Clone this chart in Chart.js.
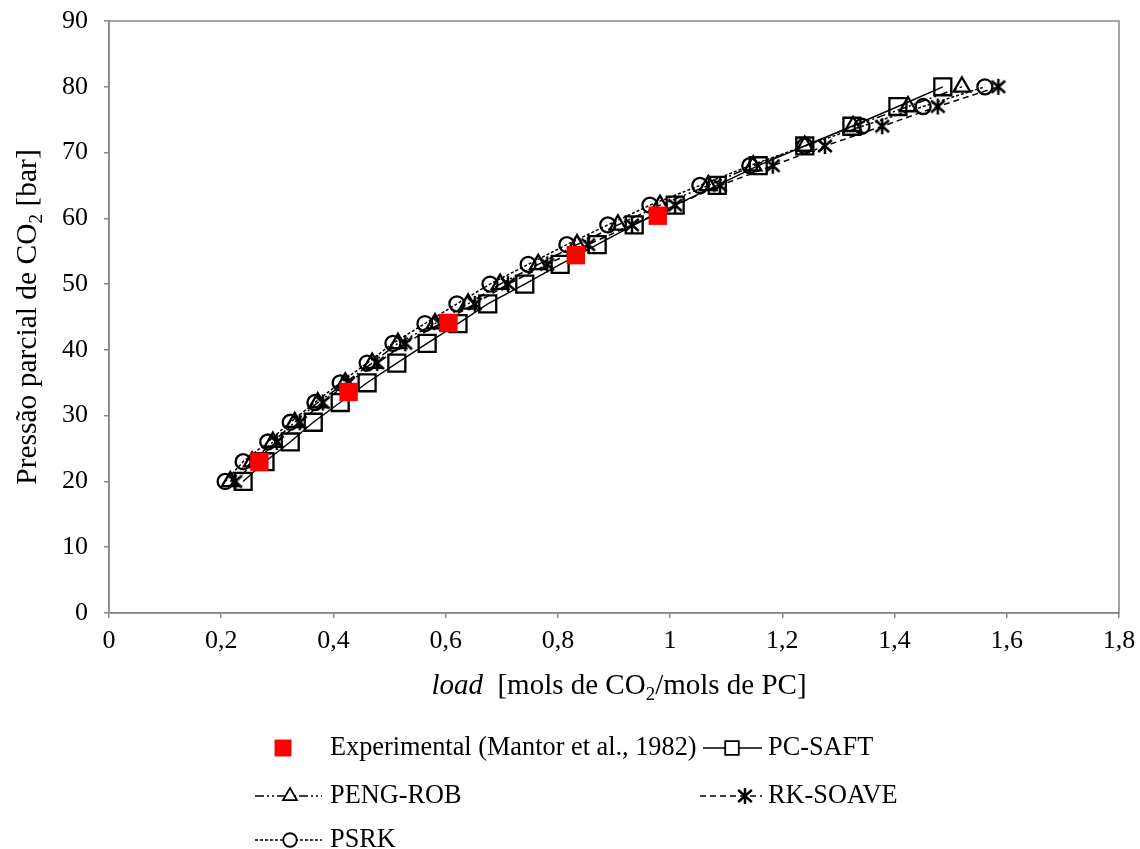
<!DOCTYPE html>
<html>
<head>
<meta charset="utf-8">
<script src="https://cdn.jsdelivr.net/npm/chart.js@4.4.1/dist/chart.umd.min.js"></script>
<style>
body { margin: 0; background: #fff; }
#wrap { width: 1140px; height: 849px; }
</style>
</head>
<body>
<div id="wrap"><canvas id="chart" width="1140" height="849"></canvas></div>
<script>
// pressao parcial (bar) dos pontos calculados
var pressure = [20, 23, 26, 29, 32, 35, 38, 41, 44, 47, 50, 53, 56, 59, 62, 65, 68, 71, 74, 77, 80];

// load (mols CO2 / mols PC) de cada modelo
var loadPcSaft  = [0.239, 0.278, 0.323, 0.364, 0.412, 0.460, 0.513, 0.567, 0.622, 0.675, 0.741, 0.804, 0.870, 0.936, 1.009, 1.084, 1.157, 1.240, 1.324, 1.406, 1.486];
var loadPengRob = [0.216, 0.255, 0.292, 0.331, 0.372, 0.421, 0.469, 0.515, 0.581, 0.640, 0.697, 0.765, 0.834, 0.907, 0.982, 1.068, 1.148, 1.240, 1.326, 1.424, 1.520];
var loadRkSoave = [0.225, 0.260, 0.299, 0.340, 0.381, 0.426, 0.478, 0.528, 0.590, 0.652, 0.711, 0.781, 0.854, 0.932, 1.009, 1.089, 1.183, 1.276, 1.378, 1.477, 1.585];
var loadPsrk    = [0.207, 0.239, 0.283, 0.323, 0.367, 0.412, 0.460, 0.506, 0.563, 0.620, 0.679, 0.747, 0.816, 0.889, 0.964, 1.053, 1.142, 1.240, 1.342, 1.451, 1.561];

// experimental (Mantor et al., 1982)
var expLoad     = [0.268, 0.427, 0.605, 0.832, 0.978];
var expPressure = [23.0, 33.6, 44.1, 54.4, 60.4];

var serif = '"Liberation Serif", "Times New Roman", serif';

function toPoints(xs, ys) {
	var pts = [];
	for (var i = 0; i < xs.length; i++) {
		pts.push({x: xs[i], y: ys[i]});
	}
	return pts;
}

// marcador estrela do Excel (vertical + X)
function makeStar(size, lw) {
	var c = document.createElement('canvas');
	c.width = size; c.height = size;
	var g = c.getContext('2d');
	var h = size / 2, r = size / 2 - 1;
	g.strokeStyle = '#000';
	g.lineWidth = lw;
	g.beginPath();
	g.moveTo(h, h - r); g.lineTo(h, h + r);
	g.moveTo(h - r * 0.85, h - r * 0.75); g.lineTo(h + r * 0.85, h + r * 0.75);
	g.moveTo(h - r * 0.85, h + r * 0.75); g.lineTo(h + r * 0.85, h - r * 0.75);
	g.stroke();
	return c;
}
var starImg = makeStar(18, 2.5);

var datasets = [{
	label: 'Experimental (Mantor et al., 1982)',
	data: toPoints(expLoad, expPressure),
	showLine: false,
	pointStyle: 'rect',
	pointRadius: 13,
	pointBorderWidth: 0,
	pointBackgroundColor: '#ff0000',
	pointBorderColor: '#ff0000'
}, {
	label: 'PC-SAFT',
	data: toPoints(loadPcSaft, pressure),
	showLine: true,
	borderColor: '#000',
	borderWidth: 1.4,
	pointStyle: 'rect',
	pointRadius: 12,
	pointBorderWidth: 2.3,
	pointBackgroundColor: 'rgba(0,0,0,0)',
	pointBorderColor: '#000'
}, {
	label: 'PENG-ROB',
	data: toPoints(loadPengRob, pressure),
	showLine: true,
	borderColor: '#000',
	borderWidth: 1.5,
	borderDash: [9, 3, 2, 3, 2, 3],
	pointStyle: 'triangle',
	pointRadius: 9.5,
	pointBorderWidth: 2.3,
	pointBackgroundColor: 'rgba(0,0,0,0)',
	pointBorderColor: '#000'
}, {
	label: 'RK-SOAVE',
	data: toPoints(loadRkSoave, pressure),
	showLine: true,
	borderColor: '#000',
	borderWidth: 1.5,
	borderDash: [6, 4],
	pointStyle: starImg,
	pointRadius: 9,
	pointBorderWidth: 2.3,
	pointBackgroundColor: 'rgba(0,0,0,0)',
	pointBorderColor: '#000'
}, {
	label: 'PSRK',
	data: toPoints(loadPsrk, pressure),
	showLine: true,
	borderColor: '#000',
	borderWidth: 1.5,
	borderDash: [3, 2],
	pointStyle: 'circle',
	pointRadius: 7.5,
	pointBorderWidth: 2.3,
	pointBackgroundColor: 'rgba(0,0,0,0)',
	pointBorderColor: '#000'
}];

// texto com subscrito / italico
function richText(ctx, parts, cx, cy, size) {
	var total = 0;
	function fnt(p) {
		return (p.italic ? 'italic ' : '') + (p.sub ? Math.round(size * 0.65) : size) + 'px ' + serif;
	}
	parts.forEach(function(p) {
		ctx.font = fnt(p);
		p.w = ctx.measureText(p.t).width;
		total += p.w;
	});
	var x = cx - total / 2;
	ctx.textAlign = 'left';
	ctx.textBaseline = 'middle';
	parts.forEach(function(p) {
		ctx.font = fnt(p);
		ctx.fillText(p.t, x, cy + (p.sub ? size * 0.3 : 0));
		x += p.w;
	});
}

var framePlugin = {
	id: 'frame',
	beforeDatasetsDraw: function(chart) {
		var a = chart.chartArea, ctx = chart.ctx;
		ctx.save();
		ctx.strokeStyle = '#888';
		ctx.lineWidth = 1.5;
		ctx.strokeRect(a.left, a.top, a.right - a.left, a.bottom - a.top);
		ctx.restore();
	},
	afterDraw: function(chart) {
		var ctx = chart.ctx;
		ctx.save();
		ctx.fillStyle = '#000';
		// titulo eixo x
		richText(ctx, [
			{t: 'load', italic: true},
			{t: '  [mols de CO'},
			{t: '2', sub: true},
			{t: '/mols de PC]'}
		], 619, 686, 29);
		// titulo eixo y
		ctx.save();
		ctx.translate(28, 317);
		ctx.rotate(-Math.PI / 2);
		richText(ctx, [
			{t: 'Pressão parcial de CO'},
			{t: '2', sub: true},
			{t: ' [bar]'}
		], 0, 0, 29.5);
		ctx.restore();
		ctx.restore();

		// legenda
		var ds = chart.data.datasets;
		var items = [
			{i: 0, x1: 0, x2: 0, mx: 283, tx: 330, y: 748, k: 0.92},
			{i: 1, x1: 703, x2: 762, mx: 732, tx: 768, y: 748, k: 0.8},
			{i: 2, x1: 255, x2: 322, mx: 290, tx: 330, y: 796, k: 0.85},
			{i: 3, x1: 700, x2: 762, mx: 745, tx: 768, y: 796, k: 0.85},
			{i: 4, x1: 255, x2: 322, mx: 290, tx: 330, y: 840, k: 0.9}
		];
		items.forEach(function(it) {
			var d = ds[it.i];
			ctx.save();
			if (it.x2 > it.x1) {
				ctx.strokeStyle = d.borderColor;
				ctx.lineWidth = d.borderWidth;
				ctx.setLineDash(d.borderDash || []);
				ctx.beginPath();
				ctx.moveTo(it.x1, it.y);
				ctx.lineTo(it.x2, it.y);
				ctx.stroke();
			}
			ctx.setLineDash([]);
			ctx.fillStyle = it.i === 0 ? d.pointBackgroundColor : '#fff';
			ctx.strokeStyle = d.pointBorderColor;
			ctx.lineWidth = 1.8;
			Chart.helpers.drawPoint(ctx, {
				pointStyle: d.pointStyle,
				radius: d.pointRadius * it.k,
				rotation: 0,
				borderWidth: d.pointBorderWidth ? 1.8 : 0
			}, it.mx, it.y);
			ctx.fillStyle = '#000';
			ctx.font = '26.3px ' + serif;
			ctx.textAlign = 'left';
			ctx.textBaseline = 'middle';
			ctx.fillText(d.label, it.tx, it.y);
			ctx.restore();
		});
	}
};

var ctx = document.getElementById('chart').getContext('2d');
window.myChart = new Chart(ctx, {
	type: 'scatter',
	data: {datasets: datasets},
	options: {
		responsive: false,
		animation: false,
		layout: {padding: {left: 0, top: 21, right: 21, bottom: 0}},
		plugins: {
			legend: {display: false},
			tooltip: {enabled: false}
		},
		scales: {
			x: {
				type: 'linear',
				min: 0,
				max: 1.8,
				ticks: {
					stepSize: 0.2,
					padding: 8,
					color: '#000',
					font: {family: serif, size: 26},
					maxRotation: 0,
					callback: function(v) {
						return String(Math.round(v * 10) / 10).replace('.', ',');
					}
				},
				grid: {drawOnChartArea: false, tickLength: 5, color: '#888', lineWidth: 1.5},
				border: {color: '#888', width: 1.5},
				afterFit: function(s) {
					s.height = 236;
					s.paddingLeft = 0; s.paddingRight = 0;
				}
			},
			y: {
				min: 0,
				max: 90,
				ticks: {
					stepSize: 10,
					padding: 16,
					color: '#000',
					font: {family: serif, size: 26}
				},
				grid: {drawOnChartArea: false, tickLength: 5, color: '#888', lineWidth: 1.5},
				border: {color: '#888', width: 1.5},
				afterFit: function(s) {
					s.width = 109;
					s.paddingTop = 0; s.paddingBottom = 0;
				}
			}
		}
	},
	plugins: [framePlugin]
});
</script>
</body>
</html>
